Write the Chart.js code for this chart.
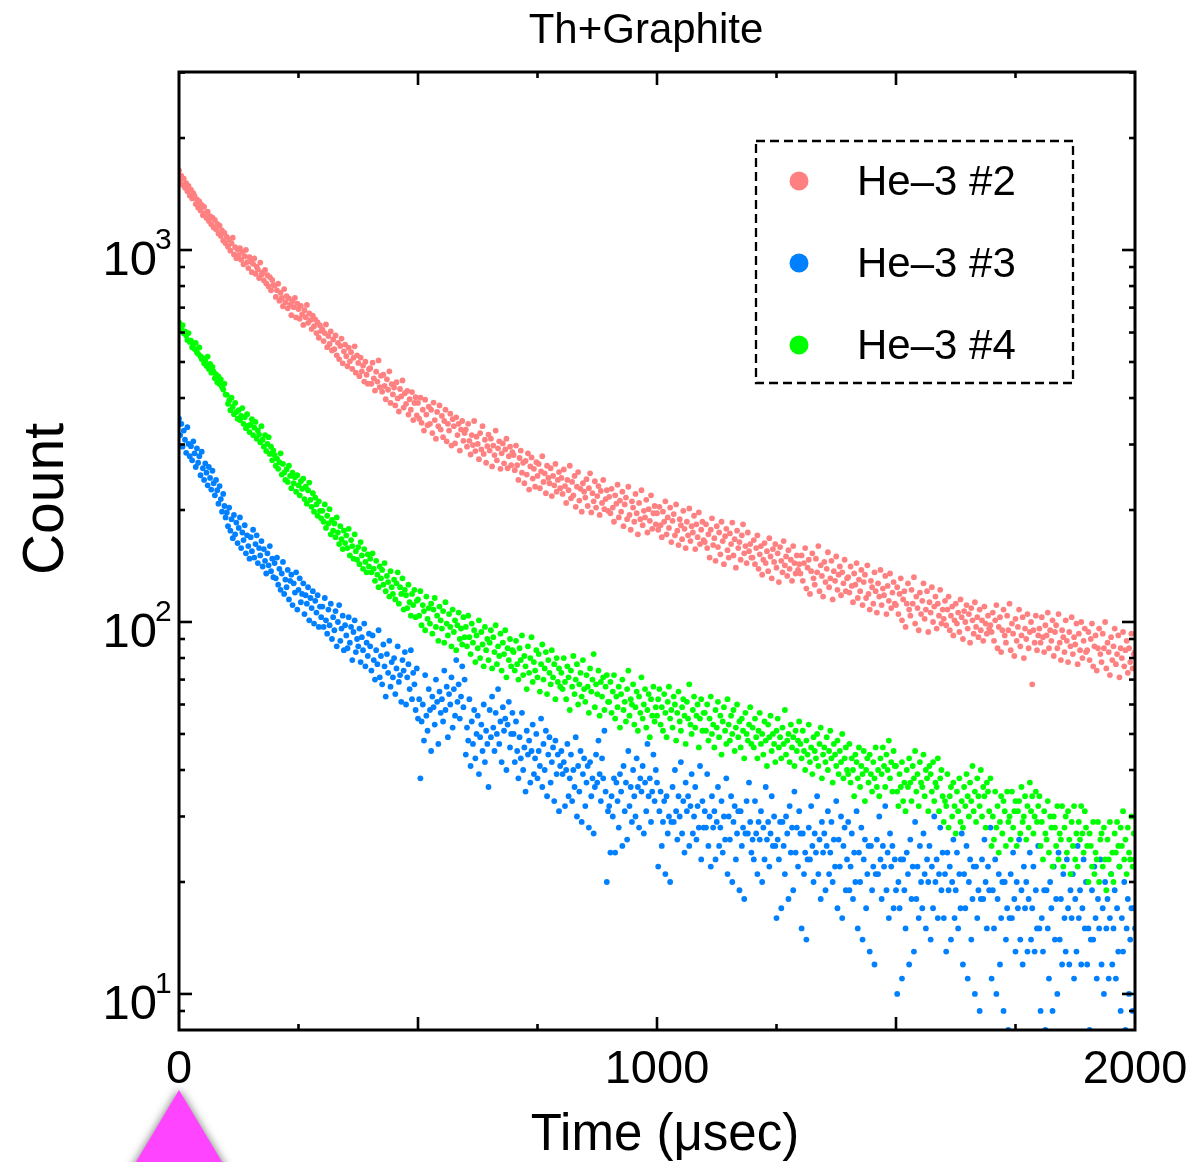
<!DOCTYPE html>
<html>
<head>
<meta charset="utf-8">
<script src="https://cdn.jsdelivr.net/npm/chart.js@4.4.1/dist/chart.umd.min.js"></script>
<style>
  html, body { margin: 0; padding: 0; background: #fff; }
  #wrap { width: 1195px; height: 1162px; }
</style>
</head>
<body>
<div id="wrap"><canvas id="decay" width="1195" height="1162"></canvas></div>
<script>
//---------------------DATA--------------------------------------//
const chartTitle = 'Th+Graphite';
const xAxisTitle = 'Time (μsec)';
const yAxisTitle = 'Count';
const seriesNames = ['He–3 #2', 'He–3 #3', 'He–3 #4'];
const seriesColors = ['#ff8080', '#0080ff', '#00ff00'];
const binWidthUs = 2.5;          // one count read every 2.5 µs, 0 .. 2000
const xTickLabels = ['0', '1000', '2000'];
const xTickValues = [0, 1000, 2000];
const yTickExponents = [1, 2, 3];

// He-3 #2 (salmon), one row = 100 µs
const counts2 = [
  1635, 1540, 1582, 1498, 1556, 1470, 1512, 1439, 1487, 1401, 1452, 1376, 1421, 1398, 1329, 1367, 1302, 1351, 1278, 1322,
  1241, 1306, 1257, 1219, 1268, 1196, 1234, 1172, 1221, 1150, 1204, 1137, 1176, 1108, 1162, 1091, 1129, 1060, 1112, 1043,
  1085, 1021, 1067, 996, 1042, 1079, 973, 1018, 951, 1003, 968, 1012, 941, 989, 915, 962, 1001, 928, 894, 957,
  931, 872, 918, 949, 863, 902, 887, 841, 925, 858, 871, 829, 884, 813, 856, 798, 846, 779, 831, 806,
  802, 748, 779, 812, 731, 768, 743, 706, 785, 724, 752, 697, 741, 713, 668, 729, 702, 744, 659, 718,
  694, 653, 708, 671, 629, 689, 660, 712, 637, 675, 648, 613, 666, 624, 651, 598, 639, 581, 627, 606,
  612, 569, 598, 631, 548, 587, 559, 604, 537, 575, 541, 589, 521, 563, 509, 552, 578, 496, 534, 557,
  518, 487, 546, 502, 531, 479, 513, 551, 468, 521, 497, 458, 514, 472, 489, 443, 501, 462, 437, 478,
  481, 437, 498, 452, 419, 471, 443, 505, 428, 459, 416, 462, 431, 397, 449, 421, 472, 388, 436, 409,
  427, 382, 441, 399, 368, 423, 404, 446, 377, 412, 386, 418, 361, 397, 372, 415, 349, 388, 402, 359,
  388, 352, 401, 343, 372, 327, 396, 361, 338, 379, 341, 372, 322, 389, 349, 311, 367, 336, 382, 329,
  358, 314, 347, 372, 306, 341, 327, 363, 298, 351, 336, 302, 355, 318, 341, 289, 329, 347, 307, 322,
  329, 296, 341, 307, 282, 318, 299, 347, 288, 315, 301, 274, 322, 291, 336, 283, 309, 268, 297, 319,
  289, 311, 262, 298, 281, 327, 272, 293, 306, 258, 284, 302, 267, 291, 311, 259, 279, 296, 264, 286,
  281, 256, 298, 264, 241, 276, 289, 252, 268, 236, 271, 249, 284, 227, 262, 277, 243, 258, 231, 269,
  247, 266, 229, 254, 279, 238, 251, 222, 263, 244, 236, 259, 218, 247, 233, 266, 224, 241, 253, 229,
  244, 221, 257, 232, 209, 241, 226, 263, 215, 238, 219, 247, 204, 231, 253, 212, 228, 198, 236, 224,
  216, 242, 205, 229, 251, 197, 222, 211, 239, 203, 218, 232, 194, 225, 209, 241, 201, 214, 226, 199,
  217, 196, 228, 203, 186, 219, 208, 234, 191, 212, 198, 224, 181, 207, 216, 189, 231, 194, 177, 211,
  203, 186, 221, 196, 172, 209, 189, 226, 182, 199, 191, 213, 174, 201, 187, 219, 178, 196, 205, 183,
  196, 177, 204, 182, 169, 198, 186, 211, 172, 191, 179, 203, 164, 187, 195, 171, 207, 176, 161, 189,
  182, 167, 199, 178, 158, 186, 171, 202, 165, 181, 174, 193, 157, 183, 169, 197, 162, 177, 186, 166,
  164, 183, 158, 172, 149, 177, 190, 161, 168, 146, 181, 159, 174, 152, 186, 165, 143, 170, 178, 156,
  149, 173, 162, 185, 151, 167, 140, 176, 158, 164, 147, 171, 183, 153, 160, 144, 174, 155, 162, 149,
  149, 166, 143, 158, 171, 139, 152, 160, 134, 147, 163, 144, 155, 137, 168, 150, 131, 157, 145, 162,
  140, 153, 128, 159, 146, 136, 165, 142, 150, 133, 156, 139, 147, 129, 160, 144, 135, 151, 138, 143,
  135, 151, 129, 144, 158, 123, 140, 147, 119, 137, 153, 131, 126, 148, 136, 160, 121, 142, 133, 117,
  145, 128, 139, 154, 124, 131, 146, 115, 137, 129, 150, 122, 134, 141, 118, 136, 127, 147, 121, 131,
  132, 120, 141, 125, 113, 135, 126, 144, 116, 130, 121, 138, 111, 128, 134, 116, 142, 119, 108, 129,
  124, 112, 136, 121, 106, 127, 117, 138, 111, 123, 118, 133, 105, 125, 114, 135, 109, 120, 128, 112,
  111, 124, 105, 119, 131, 101, 115, 121, 97, 112, 127, 108, 104, 122, 112, 132, 99, 117, 109, 95,
  120, 105, 114, 127, 102, 108, 121, 94, 113, 106, 124, 100, 110, 117, 96, 112, 104, 122, 99, 108,
  102, 114, 98, 108, 117, 95, 104, 110, 92, 101, 112, 99, 106, 94, 115, 103, 90, 107, 100, 111,
  96, 105, 88, 109, 101, 93, 113, 97, 103, 91, 108, 95, 101, 89, 110, 99, 93, 104, 96, 98,
  94, 106, 89, 101, 111, 85, 97, 103, 83, 95, 108, 92, 88, 104, 95, 112, 84, 99, 93, 81,
  102, 89, 97, 108, 86, 92, 103, 80, 96, 90, 105, 85, 94, 100, 68, 95, 88, 104, 84, 92,
  96, 88, 103, 91, 83, 98, 92, 106, 85, 95, 89, 101, 81, 94, 98, 85, 105, 88, 79, 95,
  91, 83, 101, 89, 78, 94, 86, 103, 82, 91, 87, 99, 77, 93, 84, 100, 80, 89, 96, 83,
  84, 94, 79, 90, 99, 76, 86, 92, 74, 85, 96, 82, 78, 93, 85, 100, 75, 88, 83, 72,
  91, 79, 86, 96, 77, 82, 92, 71, 85, 80, 94, 76, 84, 89, 73, 85, 78, 93, 75, 82,
  83
];

// He-3 #3 (blue)
const counts3 = [
  352, 318, 341, 296, 327, 309, 285, 334, 301, 279, 297, 272, 306, 284, 261, 293, 268, 279, 248, 287,
  259, 241, 267, 252, 233, 261, 244, 227, 255, 236, 219, 241, 226, 208, 232, 214, 198, 221, 205, 191,
  197, 181, 203, 176, 189, 168, 194, 172, 185, 163, 179, 191, 158, 174, 166, 182, 153, 171, 160, 148,
  169, 155, 177, 149, 162, 171, 144, 158, 151, 165, 141, 157, 146, 135, 153, 142, 160, 137, 148, 132,
  144, 131, 149, 126, 139, 122, 135, 145, 119, 130, 124, 138, 115, 129, 134, 111, 127, 120, 136, 108,
  122, 131, 113, 119, 127, 105, 118, 112, 124, 101, 116, 109, 121, 99, 114, 106, 118, 97, 110, 103,
  110, 97, 116, 101, 93, 108, 98, 112, 90, 103, 95, 107, 86, 100, 111, 89, 96, 104, 84, 98,
  92, 85, 103, 88, 97, 79, 94, 101, 83, 90, 86, 96, 78, 91, 84, 99, 76, 88, 81, 93,
  86, 74, 92, 79, 70, 84, 77, 95, 71, 81, 68, 87, 76, 63, 82, 73, 89, 67, 78, 71,
  80, 64, 75, 86, 69, 72, 61, 79, 74, 83, 60, 71, 77, 66, 84, 62, 73, 68, 58, 75,
  55, 62, 38, 54, 60, 48, 72, 56, 51, 66, 58, 45, 63, 59, 53, 70, 61, 47, 65, 57,
  62, 54, 74, 58, 67, 49, 64, 60, 71, 52, 66, 56, 79, 61, 68, 55, 63, 76, 59, 70,
  44, 52, 48, 62, 41, 54, 47, 58, 43, 50, 56, 39, 49, 53, 45, 60, 42, 51, 47, 36,
  58, 49, 63, 52, 45, 57, 50, 66, 47, 54, 42, 59, 51, 55, 40, 53, 61, 46, 50, 57,
  50, 42, 54, 45, 38, 49, 43, 57, 40, 46, 35, 51, 44, 48, 37, 45, 53, 39, 43, 50,
  38, 45, 41, 55, 36, 47, 40, 51, 34, 44, 49, 37, 42, 46, 33, 48, 39, 44, 31, 41,
  45, 39, 42, 32, 40, 47, 34, 38, 44, 33, 40, 36, 49, 30, 41, 35, 45, 29, 39, 43,
  32, 37, 41, 28, 42, 34, 38, 27, 36, 44, 37, 48, 39, 33, 43, 38, 51, 35, 20, 31,
  32, 24, 34, 30, 38, 24, 37, 33, 28, 39, 35, 25, 41, 31, 37, 26, 45, 32, 36, 29,
  40, 34, 30, 43, 36, 28, 38, 35, 41, 27, 37, 31, 47, 34, 38, 29, 35, 44, 33, 40,
  37, 22, 31, 35, 25, 29, 33, 21, 34, 27, 30, 20, 29, 36, 29, 40, 31, 26, 34, 30,
  42, 27, 33, 24, 37, 31, 34, 25, 32, 39, 27, 30, 36, 26, 32, 28, 41, 23, 33, 28,
  31, 28, 39, 25, 30, 22, 34, 28, 31, 23, 29, 36, 25, 28, 33, 24, 30, 26, 38, 21,
  30, 26, 34, 20, 29, 32, 23, 27, 31, 19, 31, 25, 28, 18, 27, 33, 27, 37, 29, 24,
  26, 23, 33, 27, 21, 29, 26, 31, 20, 28, 23, 36, 26, 29, 22, 27, 34, 25, 30, 25,
  16, 26, 23, 29, 17, 29, 25, 21, 30, 27, 18, 32, 24, 28, 19, 35, 24, 28, 22, 31,
  27, 15, 27, 21, 24, 14, 23, 28, 23, 32, 25, 20, 27, 24, 34, 21, 26, 18, 29, 24,
  27, 19, 25, 31, 21, 24, 29, 20, 26, 22, 33, 17, 26, 22, 30, 16, 25, 28, 19, 23,
  29, 19, 22, 27, 18, 24, 20, 31, 15, 24, 20, 28, 14, 23, 26, 17, 21, 25, 13, 25,
  19, 22, 12, 21, 26, 21, 30, 23, 18, 25, 22, 32, 19, 24, 16, 27, 22, 25, 17, 23,
  19, 10, 20, 17, 23, 11, 23, 19, 15, 24, 21, 12, 26, 18, 22, 13, 29, 18, 22, 16,
  25, 20, 17, 27, 21, 15, 23, 20, 25, 14, 22, 17, 30, 20, 23, 16, 21, 28, 19, 24,
  16, 21, 13, 24, 19, 22, 14, 20, 26, 16, 19, 24, 15, 21, 17, 27, 12, 21, 17, 25,
  11, 20, 23, 14, 18, 22, 10, 22, 16, 19, 9, 18, 23, 18, 26, 20, 15, 22, 19, 28,
  11, 19, 15, 23, 10, 18, 21, 12, 16, 20, 9, 20, 14, 17, 8, 16, 21, 16, 24, 18,
  13, 20, 17, 26, 14, 19, 12, 22, 17, 20, 13, 18, 24, 14, 17, 22, 13, 19, 15, 25,
  15, 9, 16, 13, 19, 8, 19, 15, 11, 20, 17, 9, 22, 14, 18, 10, 24, 14, 18, 12,
  21, 16, 13, 23, 17, 12, 19, 16, 21, 11, 18, 13, 25, 16, 19, 12, 17, 23, 15, 20,
  12, 15, 8, 14, 19, 14, 22, 16, 11, 18, 15, 23, 12, 17, 10, 20, 15, 18, 11, 16,
  21, 12, 15, 19, 11, 17, 13, 22, 9, 16, 13, 20, 8, 15, 18, 10, 14, 17, 9, 17,
  15
];

// He-3 #4 (green)
const counts4 = [
  639, 622, 611, 628, 597, 604, 589, 573, 598, 566, 571, 548, 559, 542, 563, 531, 526, 547, 518, 509,
  512, 496, 503, 488, 517, 479, 494, 468, 485, 471, 452, 463, 441, 457, 436, 449, 428, 422, 437, 409,
  408, 386, 394, 371, 401, 379, 362, 388, 367, 352, 371, 349, 358, 376, 341, 355, 332, 362, 337, 324,
  339, 351, 318, 333, 345, 311, 327, 319, 304, 336, 309, 296, 318, 288, 301, 314, 283, 296, 272, 289,
  281, 263, 275, 258, 269, 284, 249, 266, 252, 241, 257, 238, 263, 247, 229, 252, 236, 245, 224, 248,
  233, 219, 239, 228, 243, 214, 231, 208, 226, 237, 213, 204, 222, 198, 216, 207, 193, 211, 199, 190,
  199, 186, 207, 179, 193, 184, 201, 172, 188, 176, 184, 169, 191, 174, 162, 181, 167, 157, 176, 163,
  171, 158, 178, 151, 166, 160, 148, 172, 155, 147, 159, 143, 164, 151, 139, 157, 145, 136, 152, 141,
  148, 136, 153, 139, 129, 146, 134, 124, 141, 131, 138, 126, 144, 121, 133, 128, 117, 137, 124, 119,
  130, 115, 127, 136, 112, 124, 119, 131, 108, 122, 118, 109, 126, 113, 104, 119, 111, 122, 103, 114,
  115, 104, 121, 98, 111, 107, 95, 117, 102, 109, 99, 112, 93, 108, 116, 97, 104, 89, 110, 101,
  96, 107, 88, 113, 99, 92, 105, 97, 86, 108, 94, 101, 84, 98, 106, 90, 96, 87, 103, 91,
  97, 86, 104, 91, 82, 99, 88, 95, 78, 92, 85, 101, 80, 94, 87, 76, 97, 84, 90, 79,
  88, 95, 75, 91, 83, 98, 77, 86, 81, 93, 74, 88, 82, 95, 71, 85, 79, 90, 76, 84,
  83, 74, 89, 77, 70, 85, 79, 92, 72, 81, 76, 66, 86, 73, 80, 91, 69, 78, 74, 84,
  71, 82, 65, 77, 87, 70, 75, 83, 64, 79, 73, 68, 84, 71, 77, 62, 80, 69, 75, 67,
  73, 66, 80, 69, 62, 76, 71, 58, 74, 67, 81, 64, 70, 77, 60, 68, 73, 63, 79, 66,
  61, 72, 67, 57, 75, 65, 70, 82, 59, 68, 64, 74, 56, 69, 63, 71, 58, 67, 72, 61,
  61, 69, 57, 65, 72, 55, 63, 59, 67, 52, 64, 70, 58, 61, 54, 66, 74, 56, 62, 60,
  68, 53, 59, 65, 51, 63, 57, 71, 55, 60, 66, 52, 58, 64, 49, 62, 56, 67, 54, 59,
  56, 62, 66, 53, 59, 51, 64, 57, 49, 61, 67, 55, 58, 52, 63, 60, 48, 57, 65, 54,
  51, 59, 62, 56, 47, 61, 55, 68, 53, 50, 58, 63, 52, 56, 60, 46, 55, 62, 51, 57,
  57, 51, 60, 48, 55, 63, 50, 53, 46, 58, 52, 61, 49, 56, 44, 54, 59, 51, 47, 62,
  53, 48, 56, 50, 58, 45, 52, 60, 49, 54, 46, 55, 51, 43, 57, 50, 48, 53, 59, 47,
  52, 46, 55, 49, 43, 51, 57, 47, 50, 44, 54, 48, 41, 53, 49, 56, 45, 50, 47, 42,
  51, 55, 46, 49, 43, 52, 47, 58, 44, 48, 50, 42, 53, 46, 49, 41, 51, 45, 48, 54,
  47, 43, 51, 45, 40, 48, 44, 53, 42, 46, 39, 49, 45, 43, 50, 41, 47, 52, 38, 44,
  46, 42, 49, 40, 45, 51, 43, 37, 47, 44, 41, 48, 39, 45, 42, 50, 38, 43, 46, 40,
  39, 47, 37, 43, 40, 34, 44, 42, 38, 46, 36, 41, 39, 45, 33, 40, 43, 37, 44, 39,
  35, 42, 38, 46, 36, 40, 34, 43, 39, 46, 41, 36, 44, 40, 48, 38, 42, 35, 45, 41,
  41, 35, 32, 39, 36, 42, 33, 37, 31, 40, 36, 43, 37, 33, 41, 38, 45, 35, 39, 32,
  42, 37, 36, 44, 34, 40, 38, 31, 41, 39, 35, 42, 33, 37, 36, 43, 31, 38, 40, 34,
  29, 33, 32, 39, 28, 34, 36, 30, 37, 32, 27, 35, 31, 38, 29, 33, 28, 36, 32, 39,
  34, 30, 37, 33, 41, 31, 35, 29, 38, 34, 32, 40, 30, 36, 34, 28, 37, 35, 31, 38,
  25, 30, 26, 35, 28, 32, 24, 29, 34, 27, 33, 31, 25, 35, 29, 30, 26, 35, 28, 31,
  33, 25, 31, 33, 27, 36, 29, 30, 34, 26, 32, 28, 37, 31, 34, 27, 30, 35, 29, 32,
  34, 25, 29, 23, 31, 27, 26, 33, 24, 30, 28, 22, 30, 28, 25, 32, 23, 27, 26, 32,
  22, 28, 30, 24, 31, 26, 21, 29, 25, 32, 23, 27, 22, 29, 26, 32, 27, 24, 31, 28,
  25, 20, 27, 25, 22, 29, 21, 24, 23, 29, 20, 26, 27, 22, 28, 23, 19, 26, 23, 29,
  21, 24, 20, 27, 24, 29, 25, 22, 28, 25, 31, 23, 26, 21, 28, 24, 23, 30, 22, 27,
  23
];

const markerColor = '#ff44ff';   // the magenta triangle sitting under t = 0

//---------------------HELPERS--------------------------------------//
const FONT = '"Liberation Sans", Arial, Helvetica, sans-serif';

function toPoints(counts) {
  return counts.map((c, i) => ({ x: i * binWidthUs, y: c }));
}

function line(ctx, x1, y1, x2, y2) {
  ctx.beginPath();
  ctx.moveTo(x1, y1);
  ctx.lineTo(x2, y2);
  ctx.stroke();
}

//---------------------DECORATION PLUGIN--------------------------------------//
// frame with inward ticks on all four sides, tick labels, titles, legend box
const framePlugin = {
  id: 'framePlugin',
  afterDraw(chart) {
    const { ctx, chartArea: a, scales: { x, y } } = chart;
    ctx.save();
    ctx.strokeStyle = '#000';
    ctx.fillStyle = '#000';

    // ticks along x
    ctx.lineWidth = 2.6;
    for (let t = x.min + 250; t < x.max; t += 250) {
      const px = x.getPixelForValue(t);
      const len = t % 500 === 0 ? 13 : 6;
      line(ctx, px, a.bottom, px, a.bottom - len);
      line(ctx, px, a.top, px, a.top + len);
    }

    // ticks along the log y axis
    const eLo = Math.floor(Math.log10(y.min));
    const eHi = Math.ceil(Math.log10(y.max));
    for (let e = eLo; e <= eHi; e++) {
      for (let m = 1; m <= 9; m++) {
        const v = m * Math.pow(10, e);
        if (v <= y.min || v >= y.max) continue;
        const py = y.getPixelForValue(v);
        const len = m === 1 ? 13 : 6;
        line(ctx, a.left, py, a.left + len, py);
        line(ctx, a.right, py, a.right - len, py);
      }
    }

    // frame
    ctx.lineWidth = 3;
    ctx.strokeRect(a.left, a.top, a.right - a.left, a.bottom - a.top);

    // x tick labels
    ctx.font = '47px ' + FONT;
    ctx.textAlign = 'center';
    ctx.textBaseline = 'alphabetic';
    xTickValues.forEach((v, i) => {
      ctx.fillText(xTickLabels[i], x.getPixelForValue(v), a.bottom + 53);
    });

    // y tick labels 10^n
    yTickExponents.forEach(e => {
      const py = y.getPixelForValue(Math.pow(10, e));
      ctx.font = '49px ' + FONT;
      ctx.textAlign = 'right';
      ctx.fillText('10', a.left - 22, py + 25);
      ctx.font = '30px ' + FONT;
      ctx.textAlign = 'left';
      ctx.fillText(String(e), a.left - 24, py - 1);
    });

    // axis titles
    ctx.font = '51px ' + FONT;
    ctx.textAlign = 'center';
    ctx.fillText(xAxisTitle, 665, 1150);

    ctx.save();
    ctx.translate(63, 499);
    ctx.rotate(-Math.PI / 2);
    ctx.font = '57px ' + FONT;
    ctx.fillText(yAxisTitle, 0, 0);
    ctx.restore();

    // chart title
    ctx.font = '42px ' + FONT;
    ctx.fillText(chartTitle, 646, 43);

    // legend
    ctx.lineWidth = 2.3;
    ctx.setLineDash([9, 5]);
    ctx.strokeRect(756, 141, 317, 242);
    ctx.setLineDash([]);
    ctx.font = '42px ' + FONT;
    ctx.textAlign = 'left';
    chart.data.datasets.forEach((ds, i) => {
      const ly = 181 + i * 82;
      ctx.fillStyle = ds.backgroundColor;
      ctx.beginPath();
      ctx.arc(799, ly, 9.5, 0, Math.PI * 2);
      ctx.fill();
      ctx.fillStyle = '#000';
      ctx.fillText(ds.label, 857, ly + 14);
    });

    // magenta triangle under t = 0 (runs off the bottom)
    const tx = x.getPixelForValue(0);
    ctx.shadowColor = 'rgba(0,0,0,0.55)';
    ctx.shadowBlur = 10;
    ctx.fillStyle = markerColor;
    ctx.beginPath();
    ctx.moveTo(tx, 1090);
    ctx.lineTo(tx + 55, 1182);
    ctx.lineTo(tx - 55, 1182);
    ctx.closePath();
    ctx.fill();

    ctx.restore();
  }
};

//---------------------CHART--------------------------------------//
const order = [2, 1, 0];   // green drawn on top, salmon at the back
const allCounts = [counts2, counts3, counts4];

new Chart(document.getElementById('decay'), {
  type: 'scatter',
  data: {
    datasets: allCounts.map((counts, i) => ({
      label: seriesNames[i],
      data: toPoints(counts),
      backgroundColor: seriesColors[i],
      borderColor: seriesColors[i],
      pointRadius: 2.9,
      pointBorderWidth: 0,
      pointHoverRadius: 0,
      order: order[i],
      clip: 0
    }))
  },
  options: {
    responsive: false,
    animation: false,
    devicePixelRatio: 1,
    events: [],
    layout: { padding: { top: 72, right: 60, left: 0, bottom: 0 } },
    plugins: {
      legend: { display: false },
      tooltip: { enabled: false },
      title: { display: false }
    },
    scales: {
      x: {
        type: 'linear',
        min: 0,
        max: 2000,
        ticks: { display: false },
        grid: { display: false },
        border: { display: false },
        afterFit(scale) { scale.height = 132; }
      },
      y: {
        type: 'logarithmic',
        min: 8,
        max: 3010,
        ticks: { display: false },
        grid: { display: false },
        border: { display: false },
        afterFit(scale) { scale.width = 179; }
      }
    }
  },
  plugins: [framePlugin]
});
</script>
</body>
</html>
